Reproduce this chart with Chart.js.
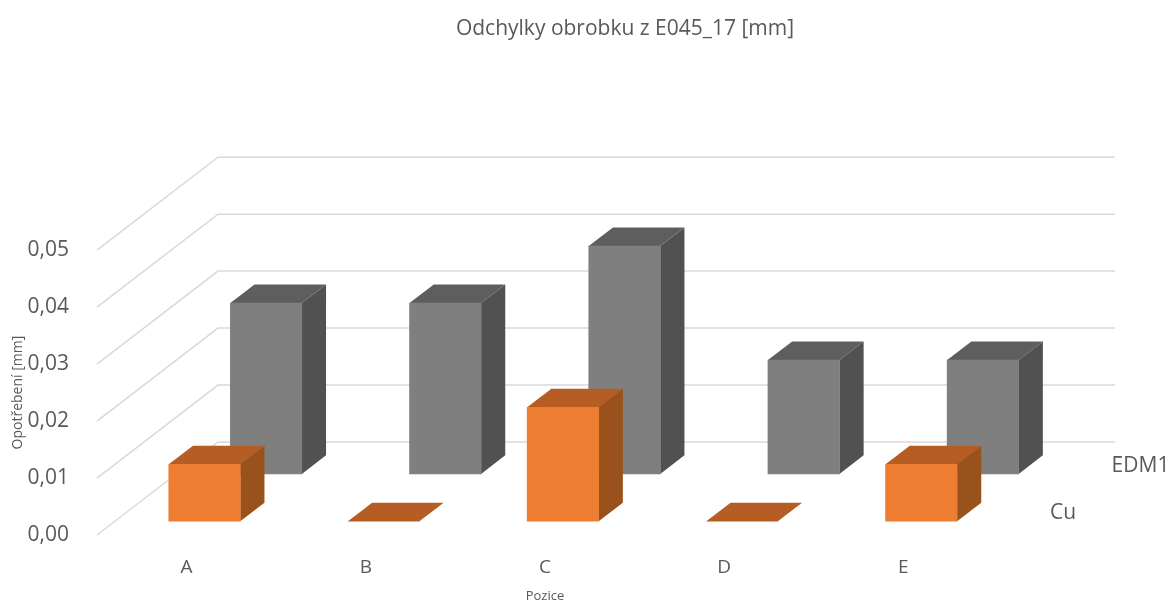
<!DOCTYPE html>
<html>
<head>
<meta charset="utf-8">
<title>Odchylky obrobku</title>
<script src="https://cdn.jsdelivr.net/npm/chart.js@4/dist/chart.umd.min.js"></script>
<style>
  html, body { margin: 0; padding: 0; background: #fff; }
  canvas { display: block; }
</style>
</head>
<body>
<canvas id="chart" width="1172" height="604"></canvas>
<script>
const categories = ["A", "B", "C", "D", "E"];
const cuValues = [0.01, 0, 0.02, 0, 0.01];
const edmValues = [0.03, 0.03, 0.04, 0.02, 0.02];

const FONT = "'Open Sans', 'Noto Sans', sans-serif";
const TEXT = "#595959";

// depth of the floor in pixels, front left corner to back left corner
const DEPTH_X = 121;
const DEPTH_Y = 93;
const BAR_DEPTH = 0.2;

function shade(ctx, pts, color) {
  ctx.fillStyle = color;
  ctx.beginPath();
  pts.forEach((p, i) => i ? ctx.lineTo(p[0], p[1]) : ctx.moveTo(p[0], p[1]));
  ctx.closePath();
  ctx.fill();
}

const fake3d = {
  id: "fake3d",

  afterLayout(chart) {
    // title is centred on the whole plot including its depth
    chart.titleBlock.left = 0;
    chart.titleBlock.right = 1250;
  },

  // push each series back to its row on the floor
  afterDatasetUpdate(chart, args) {
    const ds = chart.data.datasets[args.index];
    args.meta.data.forEach(bar => {
      bar.x += DEPTH_X * ds.row;
      bar.y -= DEPTH_Y * ds.row;
      bar.base -= DEPTH_Y * ds.row;
    });
  },

  beforeDatasetsDraw(chart) {
    const { ctx, chartArea, scales } = chart;
    ctx.save();
    ctx.strokeStyle = "#d9d9d9";
    ctx.lineWidth = 1.5;
    scales.y.ticks.forEach(t => {
      const y = scales.y.getPixelForValue(t.value);
      ctx.beginPath();
      ctx.moveTo(chartArea.left, y);
      ctx.lineTo(chartArea.left + DEPTH_X, y - DEPTH_Y);
      ctx.lineTo(chartArea.right + DEPTH_X + 1, y - DEPTH_Y);
      ctx.stroke();
    });
    ctx.restore();
  },

  // top and side of the boxes, the front face is the normal bar
  beforeDatasetDraw(chart, args) {
    const { ctx } = chart;
    const ds = chart.data.datasets[args.index];
    const dx = DEPTH_X * BAR_DEPTH;
    const dy = DEPTH_Y * BAR_DEPTH;
    args.meta.data.forEach(bar => {
      const half = bar.width / 2;
      const l = bar.x - half;
      const r = bar.x + half;
      shade(ctx, [[r, bar.y], [r + dx, bar.y - dy], [r + dx, bar.base - dy], [r, bar.base]], ds.sideColor);
      shade(ctx, [[l, bar.y], [l + dx, bar.y - dy], [r + dx, bar.y - dy], [r, bar.y]], ds.topColor);
    });
  },

  afterDraw(chart) {
    const { ctx, chartArea, scales } = chart;
    const y0 = scales.y.getPixelForValue(0);
    ctx.save();
    ctx.font = "21px " + FONT;
    ctx.fillStyle = TEXT;
    ctx.textBaseline = "middle";
    chart.data.datasets.forEach(ds => {
      const mid = ds.row + BAR_DEPTH / 2;
      ctx.fillText(ds.label, chartArea.right + DEPTH_X * mid + 27, y0 - DEPTH_Y * mid + 1);
    });
    ctx.restore();
  }
};

new Chart(document.getElementById("chart"), {
  type: "bar",
  plugins: [fake3d],
  data: {
    labels: categories,
    datasets: [
      {
        label: "Cu",
        data: cuValues,
        backgroundColor: "#ed7d31",
        topColor: "#b55d23",
        sideColor: "#9a521c",
        row: 0.148,
        clip: false
      },
      {
        label: "EDM1",
        data: edmValues,
        backgroundColor: "#7f7f7f",
        topColor: "#5e5e5e",
        sideColor: "#515151",
        row: 0.657,
        clip: false
      }
    ]
  },
  options: {
    responsive: false,
    animation: false,
    grouped: false,
    barThickness: 71.5,
    layout: { padding: { left: 0, right: 179, top: 0, bottom: 0 } },
    plugins: {
      legend: { display: false },
      tooltip: { enabled: false },
      title: {
        display: true,
        text: "Odchylky obrobku z E045_17 [mm]",
        color: TEXT,
        font: { family: FONT, size: 21, weight: "normal" },
        padding: { top: 16, bottom: 209 }
      }
    },
    scales: {
      x: {
        afterFit(scale) { scale.height = 69; },
        grid: { display: false },
        border: { display: false },
        ticks: { color: TEXT, font: { family: FONT, size: 19 }, padding: 13 },
        title: {
          display: true,
          text: "Pozice",
          color: TEXT,
          font: { family: FONT, size: 13 },
          padding: { top: 0, bottom: 0 }
        }
      },
      y: {
        min: 0,
        max: 0.05,
        afterFit(scale) { scale.width = 97; },
        grid: { display: false },
        border: { display: false },
        ticks: {
          stepSize: 0.01,
          color: TEXT,
          font: { family: FONT, size: 21 },
          padding: 20,
          callback: v => v.toFixed(2).replace(".", ",")
        },
        title: {
          display: true,
          text: "Opotřebení [mm]",
          color: TEXT,
          font: { family: FONT, size: 14 },
          padding: { top: 10, bottom: 0 }
        }
      }
    }
  }
});
</script>
</body>
</html>
